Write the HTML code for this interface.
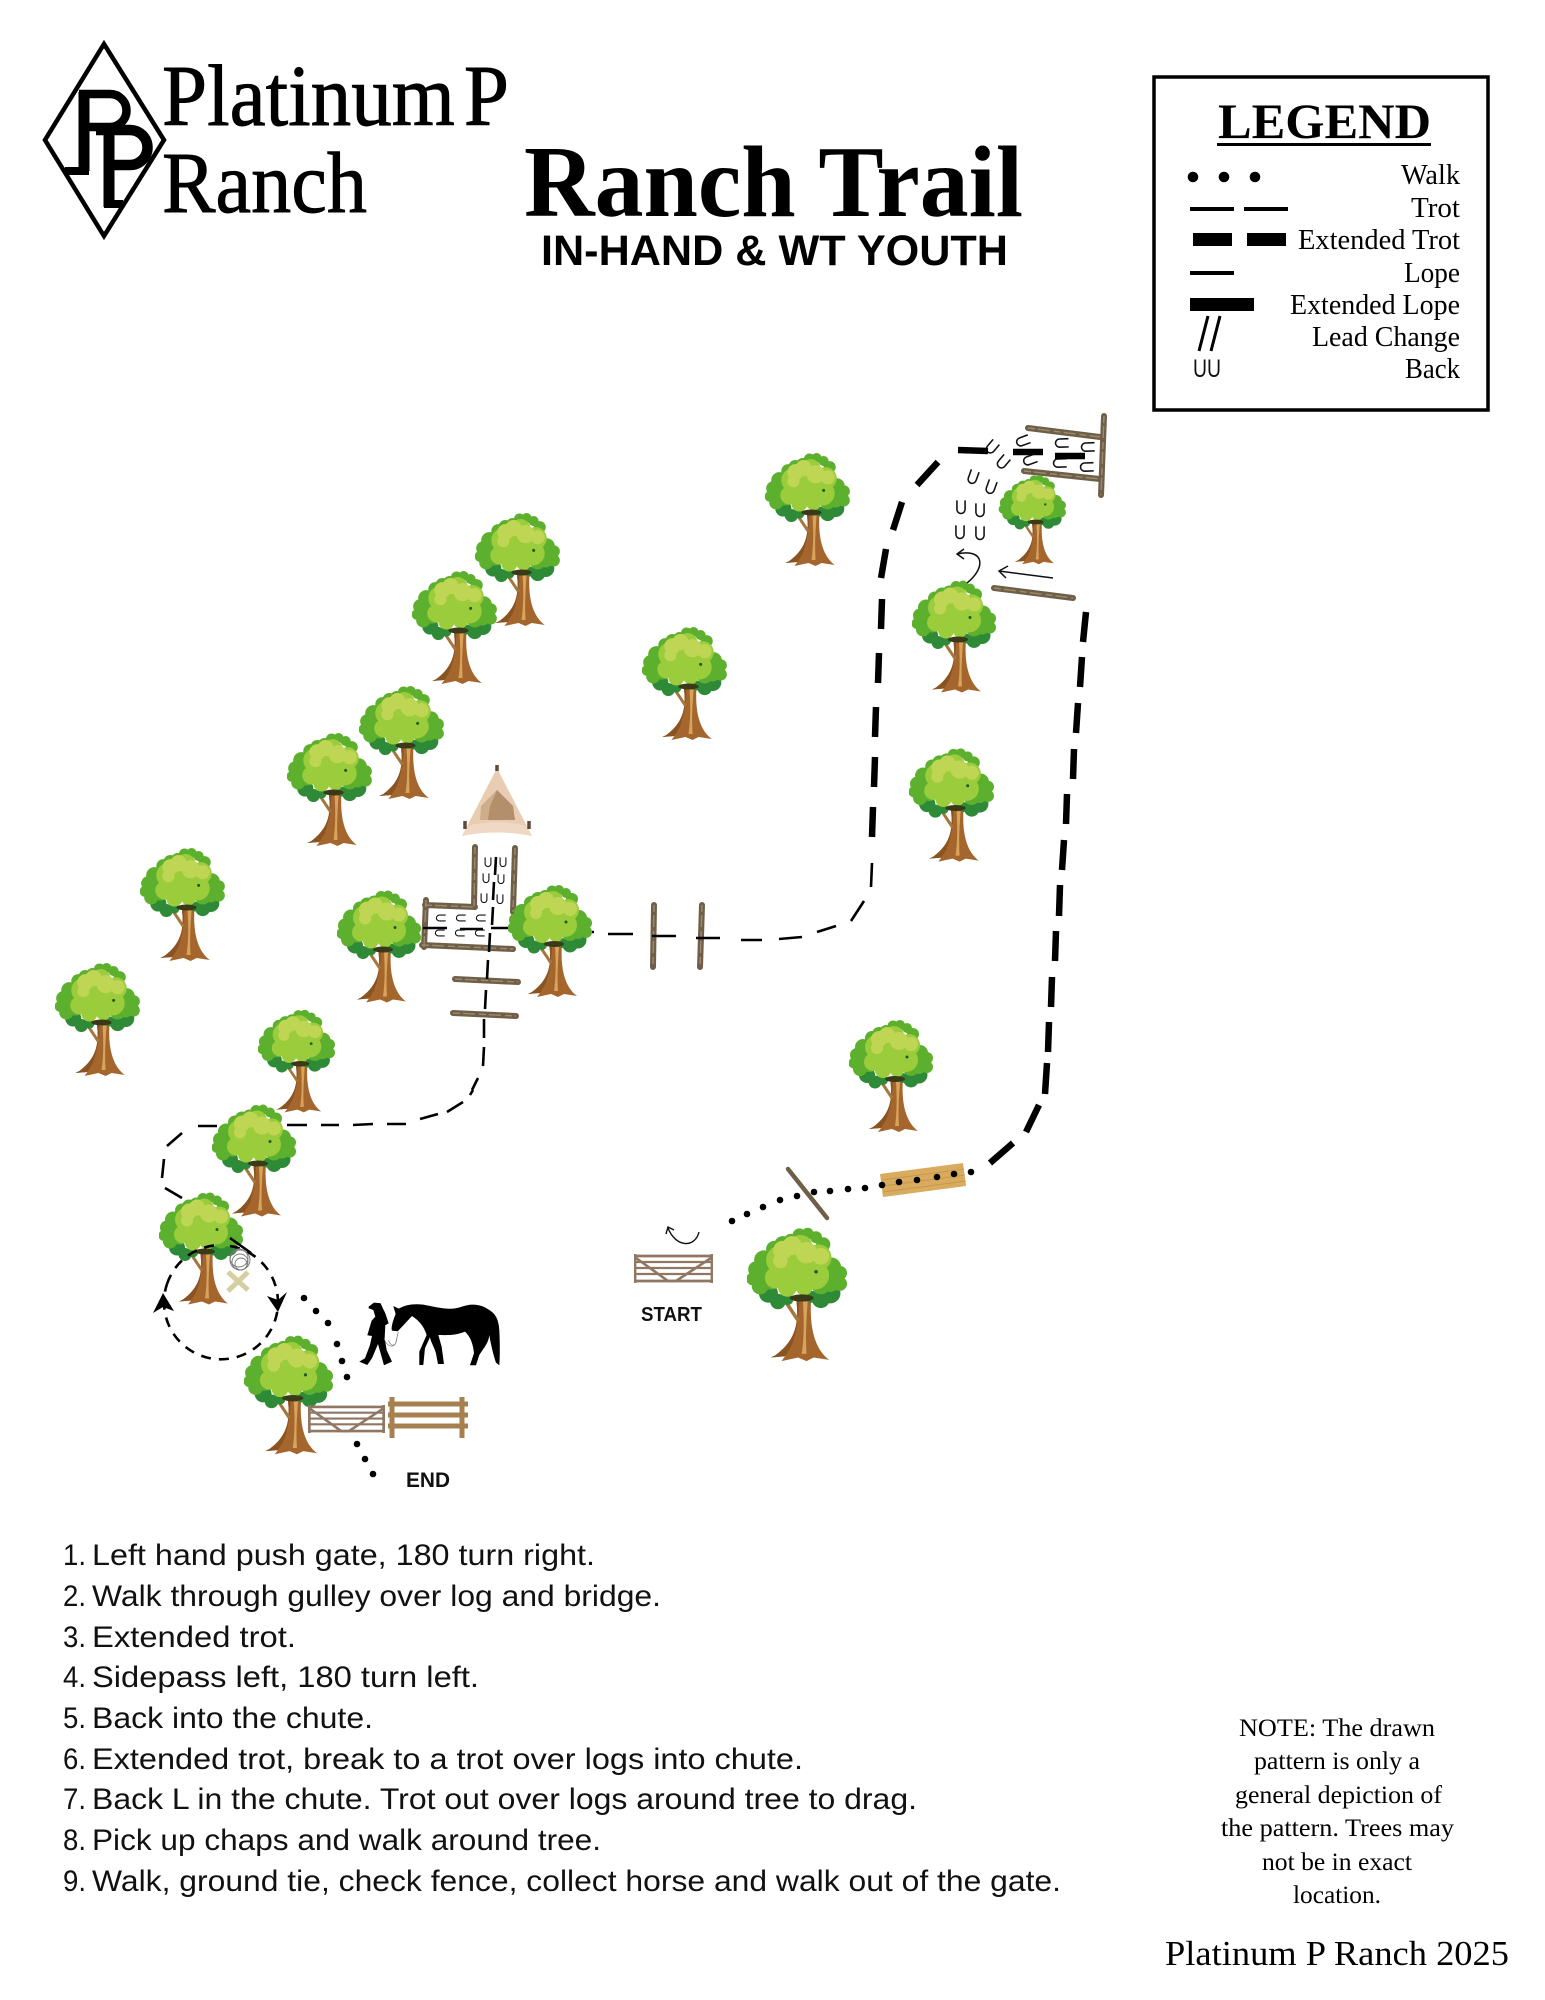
<!DOCTYPE html>
<html><head><meta charset="utf-8"><title>Ranch Trail</title>
<style>
html,body{margin:0;padding:0;background:#fff}
svg{display:block}
.se{font-family:"Liberation Serif",serif;fill:#000}
.sa{font-family:"Liberation Sans",sans-serif;fill:#111}
.log{stroke:#6f5f48;stroke-width:6;stroke-linecap:round;fill:none}
.logd{stroke:#9a8a6e;stroke-width:1.4;stroke-dasharray:7 3 12 4;fill:none}
.u{fill:none;stroke:#111;stroke-width:1.3}
</style></head><body>
<svg xmlns="http://www.w3.org/2000/svg" width="1545" height="2000" viewBox="0 0 1545 2000">
<defs>
<symbol id="tree" viewBox="0 0 84 113">
<path d="M41 58C44 78 42 94 24 107L20 109L32 108L29 112L43 109L50 112L56 109L69 111C57 102 52 84 54 58Z" fill="#a4662c"/>
<path d="M47 62C48 78 48 92 46 106L50 106C49 90 50 76 51 62Z" fill="#d8a35a"/>
<path d="M41 58C44 78 42 94 24 107L20 109L32 108L37 100C42 88 44 72 44 58Z" fill="#8a5322"/>
<path d="M31 60L43 78" stroke="#a6773d" stroke-width="3" fill="none"/>
<g fill="#2f8a38"><circle cx="18" cy="55" r="8"/><circle cx="26" cy="62" r="6.5"/><circle cx="34" cy="60" r="5"/><circle cx="62" cy="60" r="7.5"/><circle cx="70" cy="55" r="8.5"/><circle cx="54" cy="58" r="5"/></g>
<g fill="#5cb02e"><circle cx="5" cy="43" r="5.5"/><circle cx="8" cy="35" r="7"/><circle cx="14" cy="27" r="8"/><circle cx="11" cy="49" r="7"/><circle cx="20" cy="42" r="10"/><circle cx="23" cy="18" r="7"/><circle cx="78" cy="38" r="6"/><circle cx="78" cy="47" r="6"/><circle cx="71" cy="33" r="8"/><circle cx="70" cy="47" r="7"/><circle cx="62" cy="48" r="8"/><circle cx="51" cy="5" r="5"/><circle cx="44" cy="6" r="5.5"/><circle cx="58" cy="8" r="5"/><circle cx="64" cy="14" r="6"/><circle cx="37" cy="11" r="6"/><circle cx="30" cy="14" r="7"/></g>
<g fill="#9bcc3c"><circle cx="28" cy="27" r="12"/><circle cx="45" cy="16" r="10"/><circle cx="60" cy="25" r="11"/><circle cx="41" cy="38" r="14"/><circle cx="57" cy="40" r="12"/><circle cx="24" cy="42" r="9"/><circle cx="34" cy="50" r="8"/><circle cx="48" cy="50" r="7"/></g>
<g fill="#bfd655"><circle cx="30" cy="19" r="8"/><circle cx="38" cy="15" r="8"/><circle cx="50" cy="21" r="9"/><circle cx="62" cy="24" r="7"/><circle cx="28" cy="28" r="6"/></g>
<circle cx="58" cy="37" r="1.5" fill="#1f5c22"/>
<ellipse cx="46" cy="59" rx="10" ry="3" fill="#3a3a18"/>
</symbol>
<symbol id="gate" viewBox="0 0 79 29">
<g stroke="#8f7763" fill="none"><path stroke-width="2.8" d="M1 2H78M1 27H78"/><path stroke-width="2.2" d="M1 8H78M1 14H78M1 20H78"/><path stroke-width="2.8" d="M1 0V29M78 0V29"/><path stroke-width="2.6" d="M2 4L34 27H42L77 4"/></g>
</symbol>
<path id="u" d="M-3.4 -5.5V2A3.4 3.4 0 0 0 3.4 2V-5.5"/>
</defs>
<rect width="1545" height="2000" fill="#fff"/>

<!-- Logo -->
<path d="M104 44L45 140L104 236L164 140Z" fill="none" stroke="#000" stroke-width="4.5"/>
<g fill="none" stroke="#000">
<path stroke-width="8.5" d="M79 94H110A16.500 16.500 0 0 1 110 127H88"/>
<path stroke-width="11" d="M84 92V171"/>
<path stroke-width="8" d="M65 171H89"/>
<path stroke-width="10.500" d="M96 130H130A17.500 17.500 0 0 1 130 165H112"/>
<path stroke-width="11" d="M109 127V207"/>
<path stroke-width="8" d="M104 204H123"/>
</g>
<text class="se" x="162" y="125" font-size="87" word-spacing="-12" stroke="#000" stroke-width=".9" textLength="347" lengthAdjust="spacingAndGlyphs">Platinum P</text>
<text class="se" x="162" y="212" font-size="87" stroke="#000" stroke-width=".9" textLength="205" lengthAdjust="spacingAndGlyphs">Ranch</text>
<text class="se" x="524" y="216" font-size="102" font-weight="bold" textLength="499" lengthAdjust="spacingAndGlyphs">Ranch Trail</text>
<text x="541" y="265" font-family="'Liberation Sans',sans-serif" font-size="43" font-weight="bold" fill="#000" textLength="467" lengthAdjust="spacingAndGlyphs">IN-HAND &amp; WT YOUTH</text>

<!-- Legend -->
<rect x="1154" y="77" width="334" height="333" fill="none" stroke="#000" stroke-width="3.5"/>
<text class="se" x="1218" y="138" font-size="50" font-weight="bold" textLength="213" lengthAdjust="spacingAndGlyphs">LEGEND</text>
<rect x="1217" y="143" width="214" height="3" fill="#000"/>
<g font-size="28">
<text class="se" x="1401" y="184" textLength="59" lengthAdjust="spacingAndGlyphs">Walk</text>
<text class="se" x="1411" y="217" textLength="49" lengthAdjust="spacingAndGlyphs">Trot</text>
<text class="se" x="1298" y="249" textLength="162" lengthAdjust="spacingAndGlyphs">Extended Trot</text>
<text class="se" x="1404" y="282" textLength="56" lengthAdjust="spacingAndGlyphs">Lope</text>
<text class="se" x="1290" y="314" textLength="170" lengthAdjust="spacingAndGlyphs">Extended Lope</text>
<text class="se" x="1312" y="346" textLength="148" lengthAdjust="spacingAndGlyphs">Lead Change</text>
<text class="se" x="1405" y="378" textLength="55" lengthAdjust="spacingAndGlyphs">Back</text>
</g>
<g fill="#000"><circle cx="1193" cy="177" r="5.3"/><circle cx="1224" cy="177" r="5.3"/><circle cx="1255" cy="177" r="5.3"/>
<rect x="1190" y="207" width="44" height="4"/><rect x="1244" y="207" width="44" height="4"/>
<rect x="1193" y="233" width="39" height="13"/><rect x="1247" y="233" width="39" height="13"/>
<rect x="1190" y="271" width="44" height="4"/><rect x="1190" y="298" width="64" height="13"/></g>
<path d="M1208 316L1199 351M1220 316L1211 351" stroke="#000" stroke-width="3" fill="none"/>
<text class="sa" x="1193" y="377" font-size="25" textLength="28" lengthAdjust="spacingAndGlyphs">UU</text>

<!-- Trees -->
<use href="#tree" x="765" y="453" width="85" height="114"/>
<use href="#tree" x="475" y="513" width="85" height="114"/>
<use href="#tree" x="412" y="571" width="85" height="114"/>
<use href="#tree" x="642" y="627" width="85" height="114"/>
<use href="#tree" x="359" y="686" width="85" height="114"/>
<use href="#tree" x="287" y="733" width="85" height="114"/>
<use href="#tree" x="140" y="848" width="85" height="114"/>
<use href="#tree" x="55" y="963" width="85" height="114"/>
<use href="#tree" x="258" y="1009" width="77" height="105"/>
<use href="#tree" x="849" y="1020" width="84" height="113"/>
<use href="#tree" x="909" y="748" width="85" height="115"/>
<use href="#tree" x="747" y="1227" width="100" height="136"/>

<!-- Upper chute logs -->
<path class="log" d="M1028 428L1100 437M1024 471L1100 479M1104 416L1101 495M994 588L1073 598"/>
<path class="logd" d="M1028 428L1100 437M1024 471L1100 479M1104 416L1101 495M994 588L1073 598"/>
<use href="#tree" x="998" y="475" width="69" height="90"/>
<use href="#tree" x="912" y="580" width="84" height="114"/>
<g class="u" stroke-width="1.1">
<use href="#u" transform="translate(1023 441) rotate(70) scale(1.2)"/><use href="#u" transform="translate(1062 443) rotate(88) scale(1.2)"/><use href="#u" transform="translate(1088 447) rotate(88) scale(1.2)"/>
<use href="#u" transform="translate(1030 460) rotate(70) scale(1.2)"/><use href="#u" transform="translate(1060 463) rotate(88) scale(1.2)"/><use href="#u" transform="translate(1087 467) rotate(88) scale(1.2)"/>
<use href="#u" transform="translate(992 447) rotate(40) scale(1.2)"/><use href="#u" transform="translate(1003 462) rotate(40) scale(1.2)"/>
<use href="#u" transform="translate(973 477) rotate(20) scale(1.2)"/><use href="#u" transform="translate(991 487) rotate(20) scale(1.2)"/>
<use href="#u" transform="translate(961 507) scale(1.2)"/><use href="#u" transform="translate(980 510) scale(1.2)"/>
<use href="#u" transform="translate(960 532) scale(1.2)"/><use href="#u" transform="translate(980 533) scale(1.2)"/>
</g>
<path d="M1053 578L999 571M1008 566L999 571L1006 578" fill="none" stroke="#111" stroke-width="1.5"/>
<path d="M967 583C986 568 985 548 957 554M964 549L957 554L964 559" fill="none" stroke="#111" stroke-width="1.5"/>

<!-- Tent -->
<path d="M497 768L462 836Q497 827 532 836Z" fill="#e9cdb2"/>
<path d="M467 826Q497 818 527 826L532 836Q497 829 462 836Z" fill="#efd9c4"/>
<path d="M497 790L481 806L480 820H515L513 806Z" fill="#cfac8b"/>
<path d="M497 790L490 806L488 820H515L513 806Z" fill="#b48f6c"/>
<path d="M497 765v6M465 821v8M529 821v8" stroke="#5c4a3a" stroke-width="3.5"/>

<!-- Middle chute -->
<path class="log" d="M475 847L474 907M515 848L513 912M425 905L475 907M426 900L424 947M422 945L513 949M455 979L518 982M453 1013L516 1016"/>
<path class="logd" d="M475 847L474 907M515 848L513 912M425 905L475 907M426 900L424 947M422 945L513 949M455 979L518 982M453 1013L516 1016"/>
<path class="log" d="M654 905L653 967M702 905L700 967"/>
<path class="logd" d="M654 905L653 967M702 905L700 967"/>
<g class="u" stroke-width="1.1">
<use href="#u" transform="translate(488 862) scale(.85)"/><use href="#u" transform="translate(503 862) scale(.85)"/>
<use href="#u" transform="translate(486 878) scale(.85)"/><use href="#u" transform="translate(501 879) scale(.85)"/>
<use href="#u" transform="translate(484 898) scale(.85)"/><use href="#u" transform="translate(500 899) scale(.85)"/>
<use href="#u" transform="translate(441 918) rotate(90) scale(.85)"/><use href="#u" transform="translate(461 918) rotate(90) scale(.85)"/><use href="#u" transform="translate(481 918) rotate(90) scale(.85)"/>
<use href="#u" transform="translate(440 933) rotate(90) scale(.85)"/><use href="#u" transform="translate(460 933) rotate(90) scale(.85)"/><use href="#u" transform="translate(480 933) rotate(90) scale(.85)"/>
</g>

<!-- Trot line -->
<path fill="none" stroke="#000" stroke-width="2.6" d="M496 857L495 875M494 882L493 900M493 907L492 925M490 933L489 952M488 960L487 979M486 990L485 1009M484 1019L484 1038M484 1047L483 1066M478 1078L472 1090M473 1090L470 1095M463 1102L447 1112M438 1114L420 1119M406 1124L387 1124M373 1124L353 1125M339 1125L321 1125M307 1125L287 1125M217 1126L198 1126M182 1133L167 1146M164 1159L162 1178M165 1188L182 1198M423 928L447 928M460 929L483 929M491 928L509 928M592 932L594 932M608 934L633 934M652 936L676 936M696 938L720 938M741 940L762 940M779 939L802 937M817 932L836 926M851 921L864 901M871 887L872 863"/>

<!-- Extended trot thick -->
<path fill="none" stroke="#000" stroke-width="6.5" d="M958 450L988 451M1013 452L1043 452M1055 456L1085 456M938 462L917 485M902 502L893 530M886 549L881 578M882 599L881 629M879 653L878 683M876 707L875 737M875 757L874 787M873 807L872 837M1086 612L1083 642M1082 657L1080 687M1078 703L1076 733M1074 749L1073 779M1067 794L1066 824M1064 840L1062 870M1060 885L1059 916M1056 931L1055 961M1052 977L1051 1007M1049 1022L1048 1052M1047 1063L1045 1094M1039 1105L1026 1132M1013 1143L990 1163"/>

<use href="#tree" x="337" y="890" width="84" height="114"/>
<use href="#tree" x="508" y="885" width="84" height="113"/>
<use href="#tree" x="212" y="1104" width="84" height="114"/>
<use href="#tree" x="159" y="1192" width="84" height="114"/>

<!-- Circle around tree -->
<path d="M230 1246A57 57 0 1 1 167 1284" fill="none" stroke="#000" stroke-width="2.6" stroke-dasharray="10 8"/>
<path d="M167 1284A57 57 0 0 1 220 1245" fill="none" stroke="#000" stroke-width="2.6" stroke-dasharray="10 8"/>
<path d="M230 1238L251 1253" stroke="#000" stroke-width="2.6"/>
<path d="M278 1312L267 1296L278 1300L287 1292Z" fill="#000"/>
<path d="M163 1293L153 1313L163 1307L174 1311Z" fill="#000"/>
<!-- Chaps -->
<g fill="none"><path d="M228 1272L248 1290M248 1272L228 1291" stroke="#d6cda0" stroke-width="5"/>
<g stroke="#777" stroke-width=".9"><circle cx="240" cy="1260" r="10"/><circle cx="240" cy="1262" r="8"/><circle cx="241" cy="1264" r="6"/><circle cx="239" cy="1258" r="9"/></g></g>

<!-- End gate / fence -->
<use href="#tree" x="244" y="1333" width="89" height="125"/>
<use href="#gate" x="307" y="1405" width="79" height="28"/>
<g fill="#a6814f"><rect x="389.500" y="1397" width="5" height="41"/><rect x="459.500" y="1397" width="5" height="41"/><rect x="388" y="1401.500" width="80" height="5"/><rect x="388" y="1412.500" width="80" height="5"/><rect x="388" y="1423.500" width="80" height="5"/></g>

<!-- Walk dots -->
<g fill="#000"><circle cx="304" cy="1298" r="3.3"/><circle cx="316" cy="1311" r="3.3"/><circle cx="328" cy="1323" r="3.3"/><circle cx="337" cy="1344" r="3.3"/><circle cx="342" cy="1361" r="3.3"/><circle cx="347" cy="1377" r="3.3"/><circle cx="357" cy="1444" r="3.3"/><circle cx="365" cy="1459" r="3.3"/><circle cx="373" cy="1474" r="3.3"/></g>

<!-- Horse and handler -->
<g transform="translate(130 1090) scale(.3333)">
<path fill="#000" d="M786 722C782 712 790 690 797 672L790 648L806 656C825 645 850 640 880 644C920 652 960 662 990 652C1020 640 1050 640 1078 660C1098 672 1106 690 1108 720C1110 760 1110 800 1108 826L1098 818C1090 795 1082 760 1078 735C1076 760 1060 775 1048 795L1038 826H1020L1032 790C1030 765 1022 740 1005 725C975 738 945 735 925 735L935 770L942 822H924L918 790C912 770 902 755 900 742L885 775L880 825H868L868 785L890 735C882 710 868 692 846 678C830 695 815 712 803 724Z"/>
<path fill="#000" d="M716 650L732 638L752 640L757 652L766 670L776 700L766 706L764 745L770 780L786 815L762 826L744 762L726 805L712 825L688 815L705 805L720 765L726 738L712 736L725 692L736 680L730 660L716 655Z"/>
<path fill="none" stroke="#777" stroke-width="2" d="M762 745C770 770 790 775 797 760L805 725M775 750C785 775 800 770 802 735"/>
</g>

<!-- Start gate -->
<path d="M699 1232C695 1248 676 1248 668 1228M666 1234L668 1227L674 1230" fill="none" stroke="#111" stroke-width="1.4"/>
<use href="#gate" x="634" y="1254" width="79" height="29"/>
<text x="641" y="1321" font-family="'Liberation Sans',sans-serif" font-size="20" font-weight="bold" fill="#111" textLength="61" lengthAdjust="spacingAndGlyphs">START</text>
<text x="406" y="1487" font-family="'Liberation Sans',sans-serif" font-size="21" font-weight="bold" fill="#111" textLength="44" lengthAdjust="spacingAndGlyphs">END</text>

<!-- Bridge and log -->
<polygon points="880,1174 963,1163 966,1186 883,1197" fill="#d9ab5e"/>
<path d="M882 1180L964 1169M883 1186L965 1175M883 1192L966 1181" stroke="#c4924a" stroke-width=".8"/>
<path class="log" style="stroke-width:4.5" d="M788 1169L827 1218"/>
<g fill="#000"><circle cx="732" cy="1221" r="3.3"/><circle cx="747" cy="1214" r="3.3"/><circle cx="763" cy="1207" r="3.3"/><circle cx="780" cy="1200" r="3.3"/><circle cx="797" cy="1196" r="3.3"/><circle cx="814" cy="1192" r="3.3"/><circle cx="830" cy="1191" r="3.3"/><circle cx="848" cy="1189" r="3.3"/><circle cx="865" cy="1188" r="3.3"/><circle cx="882" cy="1185" r="3.3"/><circle cx="899" cy="1182" r="3.3"/><circle cx="917" cy="1180" r="3.3"/><circle cx="937" cy="1177" r="3.3"/><circle cx="954" cy="1174" r="3.3"/><circle cx="971" cy="1172" r="3.3"/></g>

<!-- Instructions -->
<g font-size="30">
<text class="sa" x="63" y="1565" textLength="23" lengthAdjust="spacingAndGlyphs">1.</text><text class="sa" x="92" y="1565" textLength="503" lengthAdjust="spacingAndGlyphs">Left hand push gate, 180 turn right.</text>
<text class="sa" x="63" y="1606" textLength="23" lengthAdjust="spacingAndGlyphs">2.</text><text class="sa" x="92" y="1606" textLength="569" lengthAdjust="spacingAndGlyphs">Walk through gulley over log and bridge.</text>
<text class="sa" x="63" y="1647" textLength="23" lengthAdjust="spacingAndGlyphs">3.</text><text class="sa" x="92" y="1647" textLength="204" lengthAdjust="spacingAndGlyphs">Extended trot.</text>
<text class="sa" x="63" y="1687" textLength="23" lengthAdjust="spacingAndGlyphs">4.</text><text class="sa" x="92" y="1687" textLength="387" lengthAdjust="spacingAndGlyphs">Sidepass left, 180 turn left.</text>
<text class="sa" x="63" y="1728" textLength="23" lengthAdjust="spacingAndGlyphs">5.</text><text class="sa" x="92" y="1728" textLength="281" lengthAdjust="spacingAndGlyphs">Back into the chute.</text>
<text class="sa" x="63" y="1769" textLength="23" lengthAdjust="spacingAndGlyphs">6.</text><text class="sa" x="92" y="1769" textLength="711" lengthAdjust="spacingAndGlyphs">Extended trot, break to a trot over logs into chute.</text>
<text class="sa" x="63" y="1809" textLength="23" lengthAdjust="spacingAndGlyphs">7.</text><text class="sa" x="92" y="1809" textLength="825" lengthAdjust="spacingAndGlyphs">Back L in the chute. Trot out over logs around tree to drag.</text>
<text class="sa" x="63" y="1850" textLength="23" lengthAdjust="spacingAndGlyphs">8.</text><text class="sa" x="92" y="1850" textLength="509" lengthAdjust="spacingAndGlyphs">Pick up chaps and walk around tree.</text>
<text class="sa" x="63" y="1891" textLength="23" lengthAdjust="spacingAndGlyphs">9.</text><text class="sa" x="92" y="1891" textLength="969" lengthAdjust="spacingAndGlyphs">Walk, ground tie, check fence, collect horse and walk out of the gate.</text>
</g>

<!-- Note -->
<g font-size="25">
<text class="se" x="1239" y="1736" textLength="196" lengthAdjust="spacingAndGlyphs">NOTE: The drawn</text>
<text class="se" x="1254" y="1769" textLength="166" lengthAdjust="spacingAndGlyphs">pattern is only a</text>
<text class="se" x="1235" y="1803" textLength="207" lengthAdjust="spacingAndGlyphs">general depiction of</text>
<text class="se" x="1221" y="1836" textLength="233" lengthAdjust="spacingAndGlyphs">the pattern. Trees may</text>
<text class="se" x="1262" y="1870" textLength="150" lengthAdjust="spacingAndGlyphs">not be in exact</text>
<text class="se" x="1293" y="1903" textLength="88" lengthAdjust="spacingAndGlyphs">location.</text>
</g>
<text class="se" x="1165" y="1965" font-size="35" textLength="344" lengthAdjust="spacingAndGlyphs">Platinum P Ranch 2025</text>
</svg>
</body></html>
